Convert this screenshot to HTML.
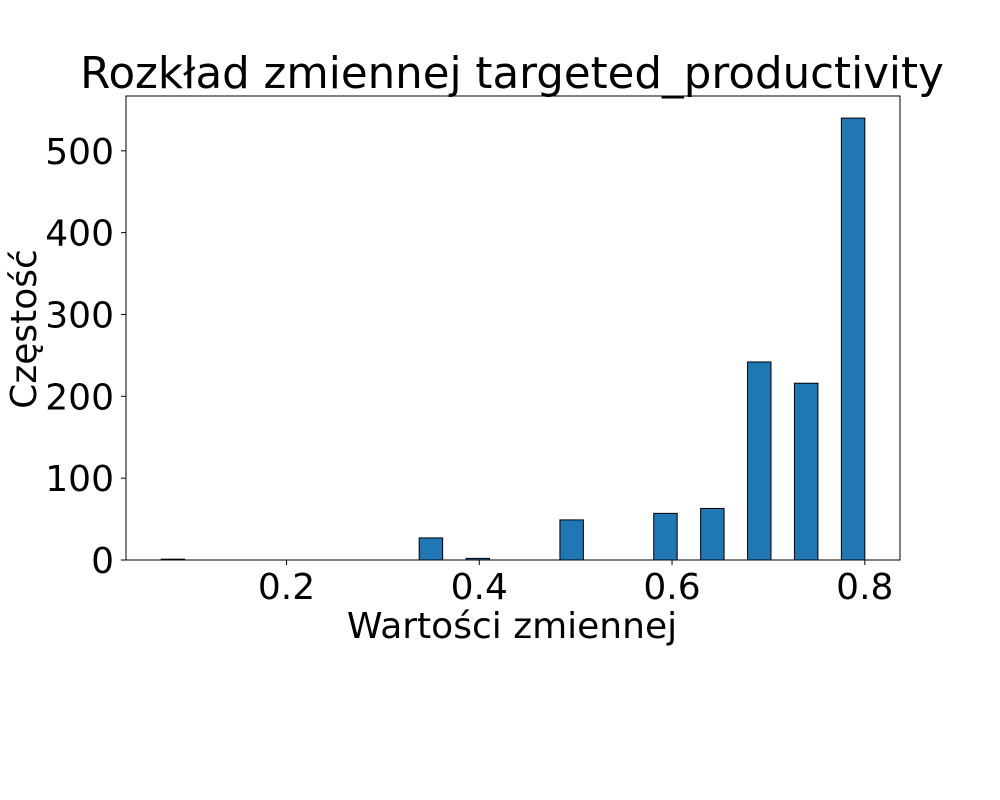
<!DOCTYPE html>
<html><head><meta charset="utf-8"><style>
html,body{margin:0;padding:0;background:#fff;}
svg{display:block;font-family:"DejaVu Sans","Liberation Sans",sans-serif;}
</style></head><body>
<svg id="chart" width="1000" height="800">
<text x="512" y="88" font-size="43.5" text-anchor="middle">Rozkład zmiennej targeted_productivity</text>
<text x="512" y="638" font-size="36" text-anchor="middle">Wartości zmiennej</text>
<text transform="translate(36,329) rotate(-90)" font-size="36" text-anchor="middle">Częstość</text>
<g id="bars"></g><g id="axes"></g>
</svg>
<script>
const binStart = 0.07;
const binEnd = 0.8;
const binCounts = [1,0,0,0,0,0,0,0,0,0,0,27,0,2,0,0,0,49,0,0,0,57,0,63,0,242,0,216,0,540];
const xTicks = [0.2,0.4,0.6,0.8];
const xTickLabels = ["0.2","0.4","0.6","0.8"];
const yTicks = [0,100,200,300,400,500];

const L=126,R=900,T=96,B=560;
const xMin=0.0335,xMax=0.8365,yMax=567;
const X=v=>L+(v-xMin)/(xMax-xMin)*(R-L);
const Y=v=>B-v/yMax*(B-T);
const NS="http://www.w3.org/2000/svg";
const bars=document.getElementById('bars'),axes=document.getElementById('axes');
const bw=(binEnd-binStart)/binCounts.length;
binCounts.forEach((c,i)=>{
  if(c<=0)return;
  const r=document.createElementNS(NS,'rect');
  const x0=X(binStart+i*bw),x1=X(binStart+(i+1)*bw);
  r.setAttribute('x',x0);r.setAttribute('width',x1-x0);
  r.setAttribute('y',Y(c));r.setAttribute('height',Y(0)-Y(c));
  r.setAttribute('fill','#1f77b4');r.setAttribute('stroke','#000');r.setAttribute('stroke-width','1');
  
  
  bars.appendChild(r);
});
const frame=document.createElementNS(NS,'rect');
frame.setAttribute('x',L);frame.setAttribute('y',T);frame.setAttribute('width',R-L);frame.setAttribute('height',B-T);
frame.setAttribute('fill','none');frame.setAttribute('stroke','#000');frame.setAttribute('stroke-width','1');


axes.appendChild(frame);
xTicks.forEach((t,i)=>{
  const l=document.createElementNS(NS,'line');
  l.setAttribute('x1',X(t));l.setAttribute('x2',X(t));l.setAttribute('y1',B);l.setAttribute('y2',B+5);l.setAttribute('stroke','#000');
  
  
  axes.appendChild(l);
  const tx=document.createElementNS(NS,'text');
  tx.setAttribute('x',X(t));tx.setAttribute('y',B+39);tx.setAttribute('font-size','36');tx.setAttribute('text-anchor','middle');
  tx.textContent=xTickLabels[i];
  
  
  axes.appendChild(tx);
});
yTicks.forEach(t=>{
  const l=document.createElementNS(NS,'line');
  l.setAttribute('x1',L-5);l.setAttribute('x2',L);l.setAttribute('y1',Y(t));l.setAttribute('y2',Y(t));l.setAttribute('stroke','#000');
  
  
  axes.appendChild(l);
  const tx=document.createElementNS(NS,'text');
  tx.setAttribute('x',L-12);tx.setAttribute('y',Y(t)+13);tx.setAttribute('font-size','36');tx.setAttribute('text-anchor','end');
  tx.textContent=String(t);
  
  
  axes.appendChild(tx);
});
</script>
</body></html>
